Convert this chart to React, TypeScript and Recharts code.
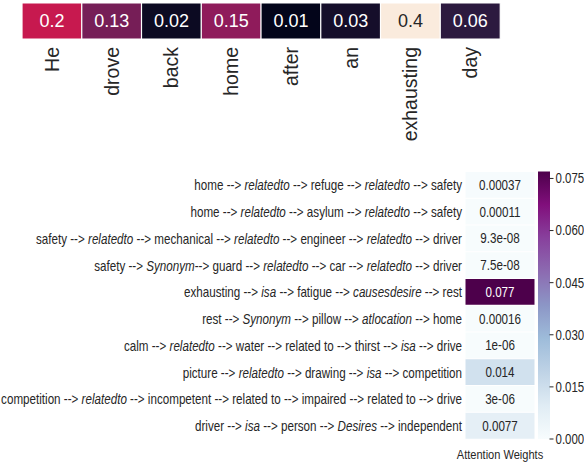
import { BarChart, Bar, XAxis, YAxis, Cell, LabelList, Label } from 'recharts';

const words = ['He', 'drove', 'back', 'home', 'after', 'an', 'exhausting', 'day'];
const wordWeights = [0.2, 0.13, 0.02, 0.15, 0.01, 0.03, 0.4, 0.06];

// relation names are wrapped in underscores -> drawn in italics
const paths = [
  'home --> _relatedto_ --> refuge --> _relatedto_ --> safety',
  'home --> _relatedto_ --> asylum --> _relatedto_ --> safety',
  'safety --> _relatedto_ --> mechanical --> _relatedto_  --> engineer --> _relatedto_ --> driver',
  'safety --> _Synonym_--> guard --> _relatedto_ --> car --> _relatedto_ --> driver',
  'exhausting --> _isa_ --> fatigue --> _causesdesire_ --> rest',
  'rest --> _Synonym_ --> pillow --> _atlocation_ --> home',
  'calm --> _relatedto_ --> water --> related to --> thirst --> _isa_ --> drive',
  'picture --> _relatedto_ --> drawing --> _isa_ --> competition',
  'competition --> _relatedto_ --> incompetent --> related to --> impaired --> related to --> drive',
  'driver --> _isa_ --> person --> _Desires_ --> independent',
];
const pathWeights = [0.00037, 0.00011, 9.3e-8, 7.5e-8, 0.077, 0.00016, 1e-6, 0.014, 3e-6, 0.0077];
const colorbarTicks = [0, 0.015, 0.03, 0.045, 0.06, 0.075];

const rocketStops: [number, string][] = [
  [0, '#03051a'],
  [0.05, '#150e2a'],
  [0.13, '#2d1a3f'],
  [0.2, '#4a1c4b'],
  [0.31, '#771e57'],
  [0.36, '#8f1b5b'],
  [0.49, '#c8194f'],
  [0.6, '#e13342'],
  [0.7, '#ef5a41'],
  [0.8, '#f5936a'],
  [0.9, '#f6c1a1'],
  [1, '#faebdd'],
];
const bupu = ['#f7fcfd', '#e0ecf4', '#bfd3e6', '#9ebcda', '#8c96c6', '#8c6bb1', '#88419d', '#810f7c', '#4d004b'];
const bupuStops: [number, string][] = bupu.map((c, i) => [i / (bupu.length - 1), c]);

function hex(c: string) {
  return [1, 3, 5].map((i) => parseInt(c.slice(i, i + 2), 16));
}

function colormap(stops: [number, string][], t: number) {
  t = Math.max(0, Math.min(1, t));
  for (let i = 1; i < stops.length; i++) {
    if (t <= stops[i][0]) {
      const [t0, c0] = stops[i - 1];
      const [t1, c1] = stops[i];
      const f = (t - t0) / (t1 - t0);
      const a = hex(c0);
      const b = hex(c1);
      return `rgb(${a.map((v, k) => Math.round(v + (b[k] - v) * f)).join(',')})`;
    }
  }
  return stops[stops.length - 1][1];
}

function formatG(v: number) {
  if (v === 0) return '0';
  const e = Math.floor(Math.log10(Math.abs(v)));
  if (e < -4) {
    const [m, ex] = v.toExponential(1).split('e');
    const sign = ex[0] === '-' ? '-' : '+';
    const d = ex.replace(/^[+-]/, '').padStart(2, '0');
    return `${m.replace(/\.0$/, '')}e${sign}${d}`;
  }
  return String(parseFloat(v.toPrecision(2)));
}

const wMin = Math.min(...wordWeights);
const wMax = Math.max(...wordWeights);
const pMax = Math.max(...pathWeights);

const topData = words.map((word, i) => ({ word, weight: wordWeights[i] }));
const pathData = paths.map((path, i) => ({ path, weight: pathWeights[i] }));
const barData = [{ name: 'cbar', v: pMax }];

const textColor = '#262626';
const sansFont = "'Liberation Sans', Arial, sans-serif";
// the lower panel's text is condensed, so squeeze it horizontally
const SQUEEZE = 0.82;

function WordTick(props: any) {
  const { x, y, payload } = props;
  return (
    <text
      transform={`translate(${x},${y}) rotate(-90)`}
      textAnchor="end"
      dominantBaseline="central"
      fontSize={19.5}
      fontFamily={sansFont}
      fill={textColor}
    >
      {payload.value}
    </text>
  );
}

function PathTick(props: any) {
  const { x, y, payload } = props;
  const parts = String(payload.value).split('_');
  return (
    <text
      transform={`translate(${x},${y}) scale(${SQUEEZE},1)`}
      textAnchor="end"
      dominantBaseline="central"
      fontSize={14.2}
      fontFamily={sansFont}
      fill={textColor}
    >
      {parts.map((p, i) => (
        <tspan key={i} fontStyle={i % 2 === 1 ? 'italic' : 'normal'}>
          {p}
        </tspan>
      ))}
    </text>
  );
}

function CbarTick(props: any) {
  const { x, y, payload } = props;
  return (
    <text
      transform={`translate(${x},${y}) scale(${SQUEEZE},1)`}
      textAnchor="start"
      dominantBaseline="central"
      fontSize={14}
      fontFamily={sansFont}
      fill={textColor}
    >
      {payload.value.toFixed(3)}
    </text>
  );
}

function AxisTitle(props: any) {
  const { viewBox } = props;
  const cx = viewBox.x + viewBox.width / 2;
  const cy = viewBox.y + viewBox.height / 2 + 2;
  return (
    <text
      transform={`translate(${cx},${cy}) scale(${SQUEEZE},1)`}
      textAnchor="middle"
      dominantBaseline="central"
      fontSize={13.5}
      fontFamily={sansFont}
      fill={textColor}
    >
      Attention Weights
    </text>
  );
}

function TopValueLabel(props: any) {
  const { x, y, width, height, value } = props;
  const t = (value - wMin) / (wMax - wMin);
  return (
    <text
      x={x + width / 2}
      y={y + height / 2}
      textAnchor="middle"
      dominantBaseline="central"
      fontSize={18}
      fontFamily={sansFont}
      fill={t > 0.6 ? textColor : '#ffffff'}
    >
      {formatG(value)}
    </text>
  );
}

function PathValueLabel(props: any) {
  const { x, y, width, height, value } = props;
  const t = value / pMax;
  return (
    <text
      transform={`translate(${x + width / 2},${y + height / 2}) scale(${SQUEEZE},1)`}
      textAnchor="middle"
      dominantBaseline="central"
      fontSize={14.2}
      fontFamily={sansFont}
      fill={t > 0.5 ? '#ffffff' : textColor}
    >
      {formatG(value)}
    </text>
  );
}

export default function App() {
  return (
    <div style={{ position: 'absolute', left: 0, top: 0, width: 584, height: 466, background: '#fff' }}>
      <div style={{ position: 'absolute', left: 0, top: 0 }}>
        <BarChart width={584} height={170} data={topData} margin={{ top: 3, right: 84, left: 22, bottom: 0 }} barCategoryGap={0}>
          <XAxis dataKey="word" interval={0} axisLine={false} tickLine={false} tickSize={0} tickMargin={8} height={131} tick={<WordTick />} />
          <YAxis hide domain={[0, 1]} />
          <Bar dataKey={() => 1} isAnimationActive={false}>
            {topData.map((d, i) => (
              <Cell key={i} fill={colormap(rocketStops, (d.weight - wMin) / (wMax - wMin))} stroke="#ffffff" strokeWidth={1.2} />
            ))}
            <LabelList dataKey="weight" content={<TopValueLabel />} />
          </Bar>
        </BarChart>
      </div>

      <div style={{ position: 'absolute', left: 0, top: 0 }}>
        <BarChart
          width={584}
          height={466}
          data={pathData}
          layout="vertical"
          margin={{ top: 171.5, right: 49, left: 0, bottom: 0 }}
          barCategoryGap={0}
        >
          <XAxis type="number" domain={[0, 1]} height={27} tick={false} axisLine={false} tickLine={false}>
            <Label content={<AxisTitle />} />
          </XAxis>
          <YAxis type="category" dataKey="path" width={465} interval={0} axisLine={false} tickLine={false} tickSize={0} tickMargin={3} tick={<PathTick />} />
          <Bar dataKey={() => 1} isAnimationActive={false}>
            {pathData.map((d, i) => (
              <Cell key={i} fill={colormap(bupuStops, d.weight / pMax)} stroke="#ffffff" strokeWidth={1} />
            ))}
            <LabelList dataKey="weight" content={<PathValueLabel />} />
          </Bar>
        </BarChart>
      </div>

      <div style={{ position: 'absolute', left: 0, top: 0 }}>
        <BarChart width={584} height={466} data={barData} margin={{ top: 171.5, right: 0, left: 538, bottom: 27 }} barCategoryGap={0}>
          <defs>
            <linearGradient id="bupuGrad" x1="0" y1="1" x2="0" y2="0">
              {bupuStops.map(([o, c], i) => (
                <stop key={i} offset={o} stopColor={c} />
              ))}
            </linearGradient>
          </defs>
          <XAxis dataKey="name" hide />
          <YAxis
            orientation="right"
            domain={[0, pMax]}
            ticks={colorbarTicks}
            width={34.5}
            axisLine={false}
            tickSize={4}
            tickMargin={2}
            tickLine={{ stroke: textColor }}
            tick={<CbarTick />}
          />
          <Bar dataKey="v" fill="url(#bupuGrad)" isAnimationActive={false} />
        </BarChart>
      </div>
    </div>
  );
}
